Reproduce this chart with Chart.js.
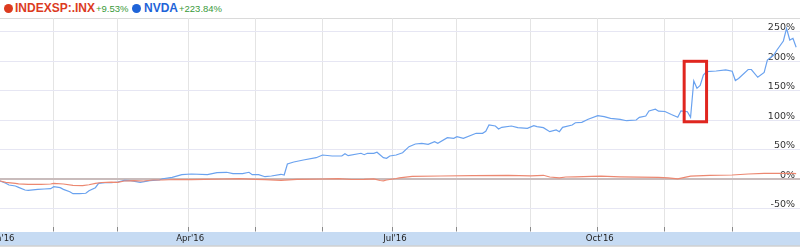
<!DOCTYPE html>
<html>
<head>
<meta charset="utf-8">
<script src="https://cdn.jsdelivr.net/npm/chart.js@4.4.1/dist/chart.umd.min.js"></script>
<style>
  body { margin: 0; width: 800px; height: 247px; overflow: hidden; background: #fff;
         position: relative; font-family: "Liberation Sans", Arial, sans-serif; }
  .dot  { position: absolute; top: 4px; width: 9px; height: 9px; border-radius: 50%; }
  .name { position: absolute; top: 2px; font-size: 12px; line-height: 12px; font-weight: bold; white-space: nowrap; }
  .chg  { position: absolute; top: 3.5px; font-size: 9.5px; line-height: 10px; color: #3a9a3a; white-space: nowrap; }
  #wrap { position: absolute; left: -7px; top: 18px; width: 807px; height: 229px; }
</style>
</head>
<body>
<div class="dot"  style="left:4px;background:#dc3b1f"></div>
<div class="name" style="left:15px;color:#dc3b1f">INDEXSP:.INX</div>
<div class="chg"  style="left:96px">+9.53%</div>
<div class="dot"  style="left:132px;background:#1f64d8"></div>
<div class="name" style="left:144px;color:#1f64d8">NVDA</div>
<div class="chg"  style="left:179px">+223.84%</div>
<div id="wrap"><canvas id="chart" width="807" height="229"></canvas></div>

<script>
// x = trading day of 2016, y = % change
const nvdaDays = [
  2, 4, 5, 7, 8, 10, 11, 14, 16, 18,
  19, 21, 22, 24, 25, 27, 29, 30, 32, 33,
  35, 37, 39, 41, 43, 46, 49, 52, 53, 56,
  59, 62, 67, 70, 73, 75, 78, 80, 81, 83,
  85, 87, 90, 91, 92, 94, 97, 101, 103, 106,
  109, 110, 111, 115, 116, 117, 119, 120, 122, 123,
  124, 126, 128, 130, 132, 134, 136, 138, 139, 142,
  144, 145, 147, 151, 153, 154, 155, 157, 158, 159,
  162, 164, 167, 169, 170, 172, 174, 176, 177, 178,
  181, 182, 184, 186, 189, 191, 193, 196, 198, 201,
  202, 204, 205, 207, 208, 210, 212, 214, 215, 217,
  218, 219, 220, 221, 222, 223, 226, 229, 231, 232,
  233, 236, 237, 239, 241, 242, 244, 245, 247, 248,
  249, 250, 251
];
const nvdaPct = [
  -2.4, -6.8, -9.7, -11.4, -13.6, -18.1, -18.6, -17.0, -16.4, -15.9,
  -12.5, -14.2, -17.0, -21.0, -24.4, -24.4, -23.7, -19.3, -14.2, -6.8,
  -5.8, -5.8, -4.6, -1.7, -2.4, -5.1, -2.4, -1.2, 1.0, 3.4,
  7.8, 9.0, 7.8, 11.2, 11.9, 9.5, 9.5, 11.9, 7.8, 7.8,
  4.4, 5.6, 8.5, 7.3, 25.9, 29.3, 32.7, 36.6, 41.2, 39.5,
  39.5, 43.4, 40.0, 44.1, 41.7, 44.1, 44.1, 45.8, 36.6, 35.6,
  39.5, 41.2, 45.1, 55.3, 59.8, 61.0, 59.3, 63.7, 61.0, 70.5,
  69.5, 72.2, 69.5, 78.0, 78.0, 81.4, 92.0, 90.3, 85.3, 88.1,
  90.3, 87.5, 86.4, 90.9, 89.2, 87.5, 80.7, 83.6, 80.7, 88.1,
  92.0, 95.9, 96.6, 101.7, 107.8, 106.1, 103.4, 101.7, 99.3, 100.5,
  105.1, 107.3, 115.8, 118.7, 115.4, 114.9, 109.8, 105.1, 116.1, 114.6,
  105.1, 166.6, 154.2, 159.0, 176.8, 182.4, 183.6, 185.6, 183.1, 167.5,
  170.9, 186.1, 186.1, 172.9, 181.0, 202.2, 210.7, 219.2, 234.4, 255.9,
  236.1, 239.0, 223.84
];

const spxDays = [
  2, 4, 7, 8, 11, 15, 18, 19, 22, 25,
  28, 30, 32, 34, 37, 39, 41, 44, 47, 50,
  53, 57, 62, 66, 72, 77, 82, 85, 90, 95,
  103, 108, 112, 116, 119, 121, 122, 123, 126, 127,
  131, 140, 150, 161, 168, 172, 174, 177, 179, 182,
  187, 190, 196, 202, 208, 211, 214, 218, 224, 231,
  236, 241, 244, 250, 251
];
const spxPct = [
  -2.4, -5.1, -6.8, -7.6, -8.5, -8.5, -8.0, -6.8, -8.0, -10.2,
  -10.8, -9.2, -6.8, -5.4, -4.9, -5.1, -2.9, -2.4, -2.9, -1.2,
  -1.2, -0.3, -0.7, 0, 0.5, 1.0, 0, -0.5, -1.7, 0,
  0.5, 1.0, -0.3, 0, 0.8, -2.0, -2.6, -1.2, 1.4, 2.5,
  5.1, 5.6, 6.1, 6.8, 5.9, 6.8, 3.9, 2.5, 3.9, 4.2,
  5.1, 5.3, 4.2, 3.6, 3.1, 2.5, 0.8, 5.3, 6.8, 7.3,
  9.0, 10.2, 10.2, 10.0, 9.53
];

// month starts (trading day index) and their labels
const monthTicks  = [2, 19, 39, 61, 82, 103, 125, 145, 168, 189, 210, 231];
const monthLabels = ["Jan'16", "", "", "Apr'16", "", "", "Jul'16", "", "", "Oct'16", "", ""];
const pctTicks = [-50, 0, 50, 100, 150, 200, 250];

// highlighted window around the November jump (day range, % range)
const boxDays = [216, 223];
const boxPct  = [97.5, 200];

const toPoints = (days, vals) => days.map((d, k) => ({ x: d, y: vals[k] }));

// ── extra drawing: axis band, top rule, red box ────────────────
const decorations = {
  id: "decorations",
  beforeDraw(chart) {
    const { ctx, chartArea } = chart;
    ctx.save();
    ctx.fillStyle = "#c6dbf3";
    ctx.fillRect(0, chartArea.bottom + 5.5, chart.width, 13.5);
    ctx.fillStyle = "#b9b9b9";
    ctx.fillRect(0, chartArea.bottom + 19, chart.width, 1);
    ctx.fillStyle = "#dadada";
    ctx.fillRect(0, chartArea.top, chart.width, 1);
    ctx.restore();
  },
  afterDatasetsDraw(chart) {
    const { ctx, scales } = chart;
    const x0 = scales.x.getPixelForValue(boxDays[0]);
    const x1 = scales.x.getPixelForValue(boxDays[1]);
    const y0 = scales.y.getPixelForValue(boxPct[1]);
    const y1 = scales.y.getPixelForValue(boxPct[0]);
    ctx.save();
    ctx.strokeStyle = "#e0261f";
    ctx.lineWidth = 3;
    ctx.strokeRect(x0, y0, x1 - x0, y1 - y0);
    ctx.restore();
  },
};

new Chart(document.getElementById("chart"), {
  type: "line",
  data: {
    datasets: [
      {
        label: "INDEXSP:.INX",
        data: toPoints(spxDays, spxPct),
        borderColor: "#ec8871",
        borderWidth: 1.2,
        pointRadius: 0,
        tension: 0,
      },
      {
        label: "NVDA",
        data: toPoints(nvdaDays, nvdaPct),
        borderColor: "#6aa2ef",
        borderWidth: 1.2,
        pointRadius: 0,
        tension: 0,
      },
    ],
  },
  options: {
    responsive: false,
    animation: false,
    devicePixelRatio: 1,
    layout: { padding: 0 },
    plugins: { legend: { display: false }, tooltip: { enabled: false } },
    scales: {
      x: {
        type: "linear",
        min: 0,
        max: 252.2,
        afterBuildTicks: (s) => { s.ticks = monthTicks.map(v => ({ value: v })); },
        afterFit: (s) => { s.height = 20.5; s.paddingLeft = 0; s.paddingRight = 0; },
        grid: { color: "#e4e4e4", tickColor: "#8a8a8a", tickLength: 5 },
        border: { display: false },
        ticks: {
          autoSkip: false,
          maxRotation: 0,
          padding: 2.5,
          labelOffset: 2,
          color: "#222",
          font: { family: "DejaVu Sans", size: 8.5 },
          callback: (v, i) => monthLabels[i],
        },
      },
      y: {
        position: "right",
        min: -80,
        max: 273.4,
        afterBuildTicks: (s) => { s.ticks = pctTicks.map(v => ({ value: v })); },
        afterFit: (s) => { s.width = 0; s.paddingTop = 0; s.paddingBottom = 0; },
        grid: {
          drawTicks: false,
          color: (c) => (c.tick && c.tick.value === 0 ? "#c9bcbc" : "#e6e6f3"),
          lineWidth: (c) => (c.tick && c.tick.value === 0 ? 2 : 1),
        },
        border: { display: false },
        ticks: {
          mirror: true,
          padding: -5,
          labelOffset: -4,
          color: "#333",
          font: { family: "DejaVu Sans", size: 9.5 },
          callback: (v) => v + "%",
        },
      },
    },
  },
  plugins: [decorations],
});
</script>
</body>
</html>
